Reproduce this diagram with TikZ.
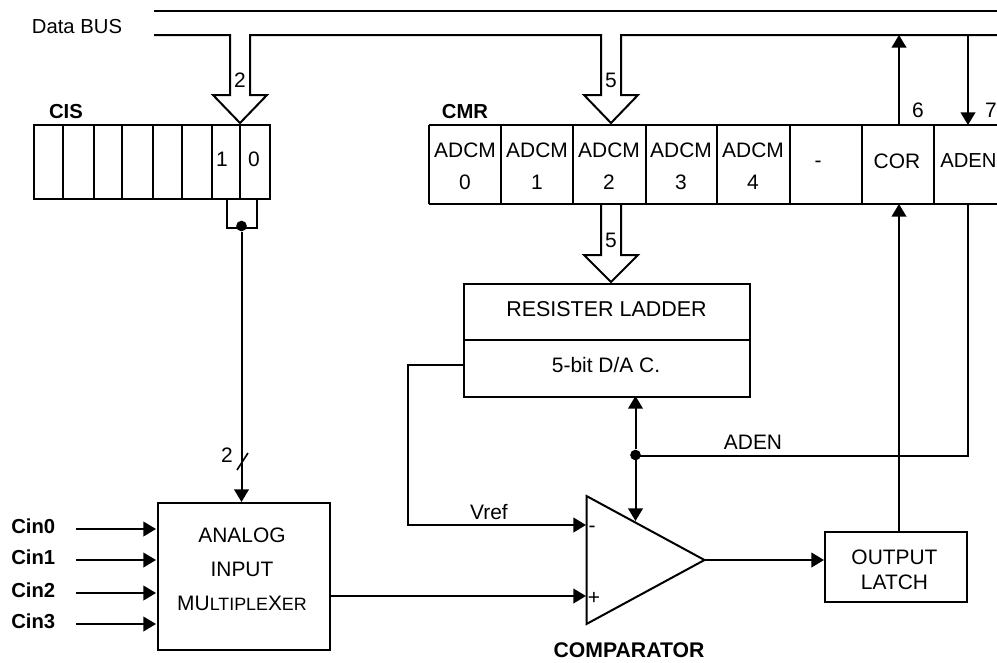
\documentclass[tikz,border=0pt]{standalone}
\usepackage{fontspec}
\setmainfont{Liberation Sans}
\usetikzlibrary{arrows.meta}
\tikzset{
  wire/.style={line width=1.5pt},
  tip/.style={-{Triangle[length=9.5pt,width=11pt]}},
  boxx/.style={draw,line width=1.6pt,inner sep=0pt,anchor=north west},
  txt/.style={font=\fontsize{15.7}{15.7}\selectfont,inner sep=0pt},
  stxt/.style={font=\fontsize{15.2}{15.2}\selectfont,inner sep=0pt},
  btxt/.style={font=\fontsize{15.2}{15.2}\bfseries\selectfont,inner sep=0pt},
  busline/.style={line width=1.5pt,line join=miter},
  dot/.style={circle,fill=black,minimum size=8pt,inner sep=0pt}
}
\begin{document}
\begin{tikzpicture}[x=0.75pt,y=-0.75pt]
\useasboundingbox (0,0) rectangle (997,662);
\clip (0,0) rectangle (997,662);
\coordinate (busA) at (154,11); \coordinate (busB) at (997,11);
\coordinate (busC) at (154,35); \coordinate (busD) at (997,35);
\draw[busline] (busA) -- (busB);
\draw[busline] (busC) -- (230,35) -- (230,95) -- (213,95) -- (240,123) -- (267,95) -- (250,95) -- (250,35) -- (601,35) -- (601,95) -- (584,95) -- (611,123) -- (638,95) -- (621,95) -- (621,35) -- (busD);
\node[stxt] (databus) at (77,27) {Data BUS};
\node[txt] (n2a) at (240,80) {2};
\node[txt] (n5a) at (611,80) {5};
% CIS
\node[btxt] (cis) at (66,112) {CIS};
\draw[wire] (34,125) rectangle (270,199);
\foreach \x in {63,94,122,153,182,212,240} \draw[wire] (\x,125) -- (\x,199);
\node[txt] (c1) at (222,159) {1};
\node[txt] (c0) at (254,159) {0};
\coordinate (cisL) at (227,199); \coordinate (cisR) at (257,199);
\node[dot] (cisdot) at (241.5,226) {};
\draw[wire] (cisL) -- (227,228) -- (257,228) -- (cisR);
% Mux
\node[boxx,minimum width=129pt,minimum height=110pt] (mux) at (157,502) {};
\node[txt] at (242,535) {ANALOG};
\node[txt] at (242,569) {INPUT};
\node[txt] at (242,603) {MU{\fontsize{13.4}{15}\selectfont LTIPLE}X{\fontsize{13.4}{15}\selectfont ER}};
\draw[wire,tip] (cisdot) -- (cisdot |- mux.north);
\draw[line width=1.2pt] (237,470) -- (248,453);
\node[txt] (n2b) at (227,455) {2};
\foreach \n/\y in {0/529,1/560,2/593,3/624}{
  \node[btxt,anchor=west] (cin\n) at (11,\y-3) {Cin\n};
  \coordinate (in\n) at (76,\y);
  \draw[wire,tip] (in\n) -- (156,\y);
}
% CMR
\node[btxt] (cmr) at (465,112) {CMR};
\draw[wire] (429,125) -- (997,125);
\draw[wire] (429,204) -- (997,204);
\foreach \x in {429,501,573,646,717,790,862,934} \draw[wire] (\x,125) -- (\x,204);
\foreach \x/\n in {465/0,537/1,609/2,681/3,753/4}{
  \node[txt] at (\x,150) {ADCM};
  \node[txt] at (\x,182) {\n};
}
\node[txt] at (818,164) {-};
\node[txt] at (897,161) {COR};
\node[stxt,anchor=west] at (940,161) {ADEN};
\draw[wire,tip] (899,125) -- (899,35);
\draw[wire,tip] (968,35) -- (968,125);
\node[txt] at (918,110) {6};
\node[txt] at (991,110) {7};
% ladder
\draw[busline] (601,204) -- (601,255) -- (584,255) -- (611,282) -- (638,255) -- (621,255) -- (621,204);
\node[txt] (n5b) at (611,240) {5};
\node[boxx,minimum width=214.5pt,minimum height=84.5pt] (lad) at (463,283) {};
\draw[wire] (lad.west |- 0,340) -- (lad.east |- 0,340);
\node[font=\fontsize{16.1}{16}\selectfont,inner sep=0pt] at (606.5,309) {RESISTER LADDER};
\node[txt] at (606,365) {5-bit D/A C.};
% comparator
\draw[wire,line join=miter] (586.5,496) coordinate (tu) -- (704.5,560) coordinate (to) -- (586.5,624) coordinate (tl) -- cycle;
\node[txt] at (592,529) {-};
\node[txt] at (594,598) {+};
\node[btxt,font=\fontsize{15.9}{16}\bfseries\selectfont] (compl) at (629,650) {COMPARATOR};
\coordinate (dacout) at (463,365);
\draw[wire,tip] (dacout) -- (408,365) -- (408,525) -- (586,525);
\node[txt] (vref) at (489,512) {Vref};
\draw[wire,tip] (mux.east |- 0,596) -- (586,596);
% ADEN and DAC control
\node[dot] (jn) at (635.5,455) {};
\coordinate (dacb) at (635.5,396);
\coordinate (trit) at (635.5,521);
\draw[wire,tip] (jn) -- (dacb);
\draw[wire,tip] (jn) -- (trit);
\draw[wire] (jn) -- (635.5,456) -- (968,456) -- (968,204);
\node[txt] (adenl) at (753,442) {ADEN};
% output latch
\node[boxx,minimum width=106.5pt,minimum height=52.5pt] (lat) at (824,531) {};
\node[txt] at (894.5,557) {OUTPUT};
\node[txt] at (894.5,582) {LATCH};
\draw[wire,tip] (to) -- (lat.west |- to);
\draw[wire,tip] (899,531) -- (899,204);
\end{tikzpicture}
\end{document}
